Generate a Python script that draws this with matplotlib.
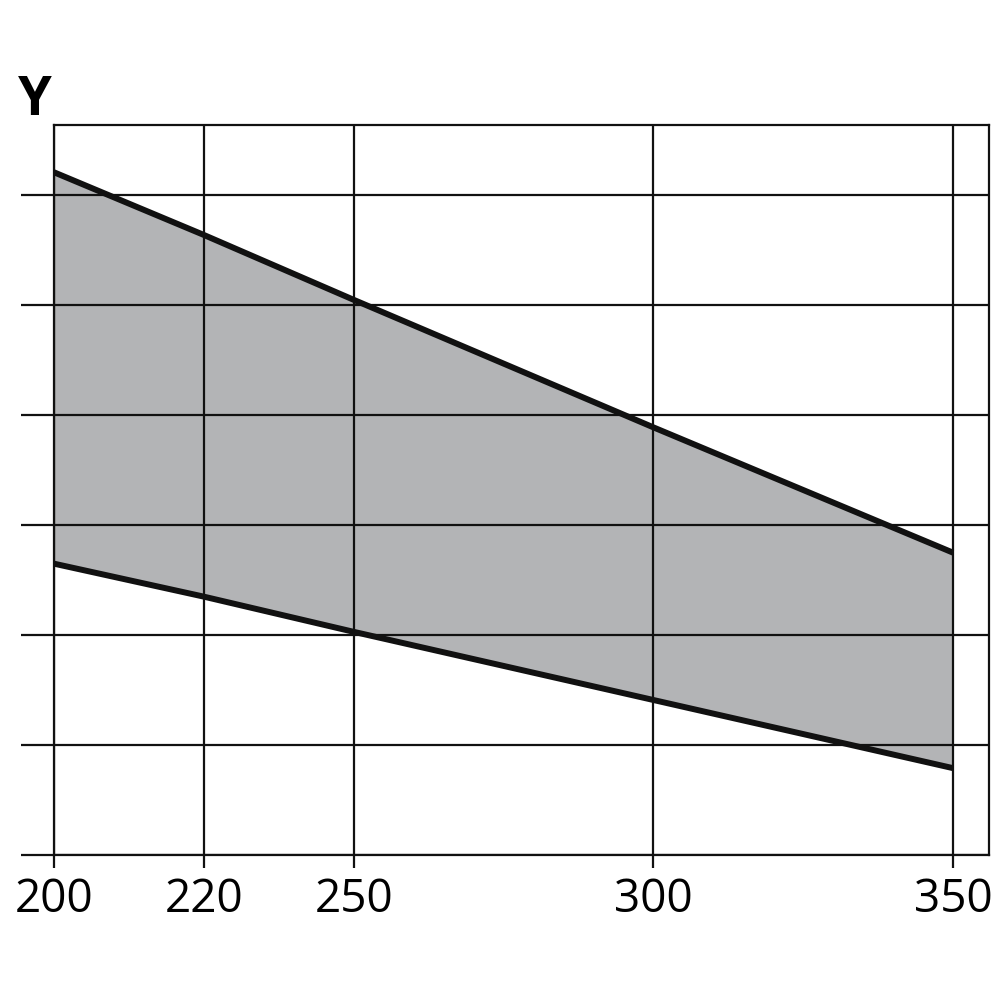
import matplotlib.pyplot as plt
import numpy as np

# x categories (axis is stretched: 200-250 steps are wider per unit)
x_vals = [200, 220, 250, 300, 350]
x_labels = ['200', '220', '250', '300', '350']
upper = [6.21, 5.64, 5.05, 3.89, 2.75]
lower = [2.65, 2.35, 2.03, 1.41, 0.79]

# piecewise-linear axis: equal spacing for 200/220/250, double for 300/350
brk_x = [180, 200, 220, 250, 300, 350, 400]
brk_u = [-1, 0, 1, 2, 4, 6, 8]

def fwd(x):
    return np.interp(x, brk_x, brk_u)

def inv(u):
    return np.interp(u, brk_u, brk_x)

plt.rcParams['font.family'] = ['Open Sans', 'DejaVu Sans']

fig = plt.figure(figsize=(10, 10), dpi=100)
ax = fig.add_axes([0.054, 0.145, 0.935, 0.73])
ax.set_xscale('function', functions=(fwd, inv))

ax.fill_between(x_vals, lower, upper, color='#b3b4b6', lw=0, zorder=1)
ax.plot(x_vals, upper, color='#111111', lw=4.3, zorder=3, solid_capstyle='butt')
ax.plot(x_vals, lower, color='#111111', lw=4.3, zorder=3, solid_capstyle='butt')

ax.set_xlim(200, 356)
ax.set_ylim(0, 6.64)
ax.set_xticks(x_vals)
ax.set_xticklabels(x_labels)
ax.xaxis.set_minor_locator(plt.NullLocator())
ax.set_yticks(range(0, 7))
ax.set_yticklabels([])

ax.grid(True, color='#111111', lw=1.6, zorder=2)
ax.set_axisbelow(False)
for s in ax.spines.values():
    s.set_color('#111111')
    s.set_linewidth(1.6)

ax.tick_params(axis='x', direction='out', length=9.5, width=1.6, color='#111111',
               labelsize=33, pad=6)
ax.tick_params(axis='y', direction='out', length=24, width=1.6, color='#111111')

fig.text(0.035, 0.899, 'Y', fontsize=39, fontweight='bold', ha='center', va='center')

fig.savefig('out.png', dpi=100, facecolor='white')
